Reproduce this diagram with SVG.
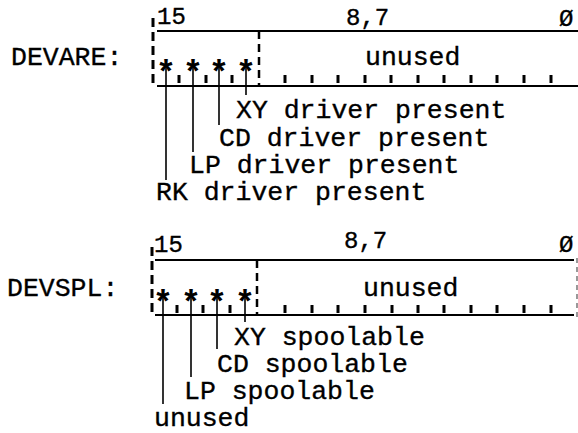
<svg xmlns="http://www.w3.org/2000/svg" width="578" height="433" viewBox="0 0 578 433">
<style>
  .t { font-family: "Liberation Mono", "Courier New", "DejaVu Sans Mono", monospace; font-size: 26.5px; fill: #000; stroke: #000; stroke-width: 0.35; }
  .n { font-size: 24px; }
  .st { font-family: "Liberation Mono", "Courier New", monospace; font-size: 34px; font-weight: bold; fill: #000; text-anchor: middle; }
  .rule { stroke: #000; stroke-width: 2.2; fill: none; }
  .dash { stroke: #000; stroke-width: 3; stroke-dasharray: 9 5; fill: none; }
  .dash2 { stroke: #000; stroke-width: 2.5; stroke-dasharray: 8 5; fill: none; }
  .faint { stroke: #555; stroke-width: 1.2; stroke-dasharray: 5 4; fill: none; }
  .tick { stroke: #000; stroke-width: 3; fill: none; }
  .stem { stroke: #000; stroke-width: 1.6; fill: none; }
</style>
<rect width="578" height="433" fill="#fff"/>

<g id="devare">
  <text class="t" x="11" y="65">DEVARE:</text>
  <text class="t n" x="157" y="24">15</text>
  <text class="t n" x="346" y="25">8,7</text>
  <text class="t n" x="559" y="26">Ø</text>
  <line class="rule" x1="157" y1="31" x2="578" y2="31"/>
  <line class="rule" x1="157" y1="86" x2="578" y2="86"/>
  <line class="dash" x1="153" y1="18" x2="153" y2="87"/>
  <line class="dash2" x1="259" y1="31" x2="259" y2="86"/>
  <text class="t" x="365" y="65">unused</text>
  <text class="st" x="166" y="83">*</text>
  <text class="st" x="193" y="83">*</text>
  <text class="st" x="219" y="83">*</text>
  <text class="st" x="246" y="83">*</text>
  <path class="tick" d="M179 75V83M206 75V83M232 75V83M285 75V83M312 75V83M338 75V83M365 75V83M391 75V83M418 75V83M444 75V83M471 75V83M497 75V83M524 75V83M551 75V83"/>
</g>

<g id="devspl">
  <text class="t" x="7" y="296">DEVSPL:</text>
  <text class="t n" x="154" y="252">15</text>
  <text class="t n" x="344" y="248">8,7</text>
  <text class="t n" x="559" y="252">Ø</text>
  <line class="rule" x1="155" y1="260" x2="574" y2="260"/>
  <line class="rule" x1="155" y1="315" x2="574" y2="315"/>
  <line class="dash" x1="152" y1="247" x2="152" y2="315"/>
  <line class="dash2" x1="257" y1="260" x2="257" y2="315"/>
  <line class="faint" x1="577" y1="258" x2="577" y2="318"/>
  <text class="t" x="363" y="296">unused</text>
  <text class="st" x="163" y="313">*</text>
  <text class="st" x="191" y="313">*</text>
  <text class="st" x="217" y="313">*</text>
  <text class="st" x="245" y="313">*</text>
  <path class="tick" d="M177 305V313M203 305V313M230 305V313M285 305V313M312 305V313M338 305V313M365 305V313M392 305V313M418 305V313M444 305V313M471 305V313M497 305V313M524 305V313M551 305V313"/>
</g>

<g id="devare-labels">
  <text class="t" x="236" y="118">XY driver present</text>
  <text class="t" x="219" y="146">CD driver present</text>
  <text class="t" x="189" y="173">LP driver present</text>
  <text class="t" x="156" y="200">RK driver present</text>
</g>

<g id="devspl-labels">
  <text class="t" x="234" y="345">XY spoolable</text>
  <text class="t" x="217" y="372">CD spoolable</text>
  <text class="t" x="184" y="399">LP spoolable</text>
  <text class="t" x="154" y="426">unused</text>
</g>

<g id="connectors">
  <line class="stem" x1="166" y1="64" x2="166" y2="180"/>
  <line class="stem" x1="193" y1="64" x2="193" y2="152"/>
  <line class="stem" x1="219" y1="64" x2="219" y2="125"/>
  <line class="stem" x1="246" y1="64" x2="246" y2="95"/>
  <line class="stem" x1="163" y1="294" x2="163" y2="404"/>
  <line class="stem" x1="191" y1="294" x2="191" y2="377"/>
  <line class="stem" x1="217" y1="294" x2="217" y2="349"/>
  <line class="stem" x1="245" y1="294" x2="245" y2="322"/>
</g>
</svg>
